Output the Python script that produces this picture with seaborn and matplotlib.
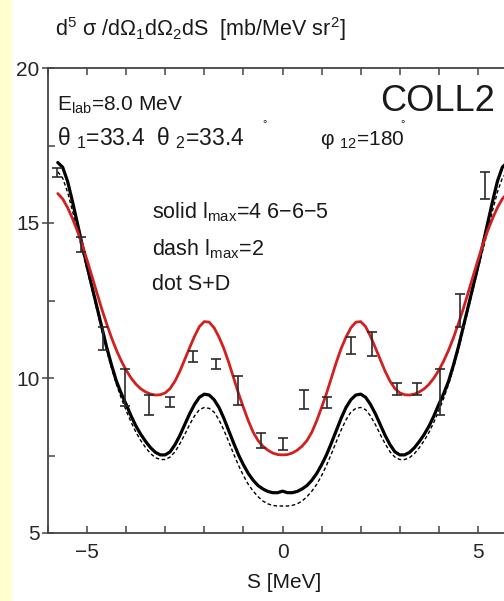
import matplotlib
matplotlib.use("Agg")
import matplotlib.pyplot as plt
from matplotlib.patches import Rectangle
from matplotlib.ticker import MultipleLocator, FixedLocator
import pandas as pd
import seaborn as sns

# ---- theory curves on a common S grid [MeV], step 0.125 ----
s_grid = [-5.75, -5.625, -5.5, -5.375, -5.25, -5.125, -5.0, -4.875, -4.75, -4.625,
          -4.5, -4.375, -4.25, -4.125, -4.0, -3.875, -3.75, -3.625, -3.5, -3.375,
          -3.25, -3.125, -3.0, -2.875, -2.75, -2.625, -2.5, -2.375, -2.25, -2.125,
          -2.0, -1.875, -1.75, -1.625, -1.5, -1.375, -1.25, -1.125, -1.0, -0.875,
          -0.75, -0.625, -0.5, -0.375, -0.25, -0.125, 0.0,
          0.125, 0.25, 0.375, 0.5, 0.625, 0.75, 0.875, 1.0, 1.125, 1.25,
          1.375, 1.5, 1.625, 1.75, 1.875, 2.0, 2.125, 2.25, 2.375, 2.5,
          2.625, 2.75, 2.875, 3.0, 3.125, 3.25, 3.375, 3.5, 3.625, 3.75,
          3.875, 4.0, 4.125, 4.25, 4.375, 4.5, 4.625, 4.75, 4.875, 5.0,
          5.125, 5.25, 5.375, 5.5, 5.625, 5.75]

# solid, l_max = 4 6-6-5
solid_lmax4 = [16.95, 16.8, 16.35, 15.7, 15.0, 14.3, 13.6, 12.95, 12.3, 11.65,
               11.0, 10.42, 9.9, 9.5, 9.15, 8.78, 8.45, 8.18, 7.95, 7.75,
               7.6, 7.52, 7.52, 7.62, 7.85, 8.15, 8.5, 8.85, 9.15, 9.38,
               9.48, 9.45, 9.3, 9.05, 8.7, 8.3, 7.9, 7.52, 7.2, 6.92,
               6.7, 6.53, 6.42, 6.34, 6.3, 6.3, 6.35,
               6.3, 6.3, 6.34, 6.42, 6.53, 6.7, 6.92, 7.2, 7.52, 7.9,
               8.3, 8.7, 9.05, 9.3, 9.45, 9.48, 9.38, 9.15, 8.85, 8.5,
               8.15, 7.85, 7.62, 7.52, 7.52, 7.6, 7.75, 7.95, 8.18, 8.45,
               8.78, 9.15, 9.5, 9.9, 10.42, 11.0, 11.65, 12.3, 12.95, 13.6,
               14.3, 15.0, 15.7, 16.35, 16.8, 16.95]

# dashed, S+D
dash_sd = [16.65, 16.45, 16.0, 15.4, 14.75, 14.12, 13.5, 12.85, 12.2, 11.55,
           10.9, 10.32, 9.8, 9.35, 8.95, 8.58, 8.25, 7.98, 7.75, 7.56,
           7.43, 7.37, 7.37, 7.45, 7.62, 7.88, 8.18, 8.5, 8.78, 8.98,
           9.05, 9.02, 8.9, 8.65, 8.32, 7.94, 7.55, 7.18, 6.85, 6.57,
           6.35, 6.17, 6.03, 5.94, 5.89, 5.87, 5.87,
           5.87, 5.89, 5.94, 6.03, 6.17, 6.35, 6.57, 6.85, 7.18, 7.55,
           7.94, 8.32, 8.65, 8.9, 9.02, 9.05, 8.98, 8.78, 8.5, 8.18,
           7.88, 7.62, 7.45, 7.37, 7.37, 7.43, 7.56, 7.75, 7.98, 8.25,
           8.58, 8.95, 9.35, 9.8, 10.32, 10.9, 11.55, 12.2, 12.85, 13.5,
           14.12, 14.75, 15.4, 16.0, 16.45, 16.65]

# red, l_max = 2
red_lmax2 = [15.95, 15.78, 15.5, 15.15, 14.75, 14.3, 13.8, 13.28, 12.75, 12.23,
             11.75, 11.3, 10.9, 10.55, 10.25, 10.0, 9.8, 9.65, 9.55, 9.48,
             9.45, 9.46, 9.52, 9.66, 9.9, 10.22, 10.6, 10.98, 11.35, 11.66,
             11.82, 11.8, 11.62, 11.32, 10.95, 10.5, 10.0, 9.5, 9.05, 8.62,
             8.25, 7.98, 7.8, 7.67, 7.58, 7.53, 7.52,
             7.53, 7.58, 7.67, 7.8, 7.98, 8.25, 8.62, 9.05, 9.5, 10.0,
             10.5, 10.95, 11.32, 11.62, 11.8, 11.82, 11.66, 11.35, 10.98, 10.6,
             10.22, 9.9, 9.66, 9.52, 9.46, 9.45, 9.48, 9.55, 9.65, 9.8,
             10.0, 10.25, 10.55, 10.9, 11.3, 11.75, 12.23, 12.75, 13.28, 13.8,
             14.3, 14.75, 15.15, 15.5, 15.78, 15.95]

# ---- measured cross sections ----
s_data = [-5.77, -5.15, -4.6, -4.03, -3.41, -2.87, -2.28, -1.69, -1.15, -0.56, 0.0,
          0.56, 1.13, 1.74, 2.28, 2.92, 3.43, 4.03, 4.54, 5.18]
xs_data = [16.63, 14.3, 11.28, 9.7, 9.12, 9.22, 10.7, 10.45, 9.6, 7.98, 7.87,
           9.3, 9.2, 11.05, 11.1, 9.65, 9.65, 9.55, 12.18, 16.2]
xs_err = [0.14, 0.24, 0.37, 0.6, 0.32, 0.16, 0.18, 0.16, 0.48, 0.24, 0.19,
          0.3, 0.18, 0.26, 0.4, 0.2, 0.2, 0.75, 0.53, 0.44]

x_ticks = [-5, 0, 5]
y_ticks = [5, 10, 15, 20]

sns.set_theme(style="ticks")
plt.rcParams["font.family"] = ["Liberation Sans", "DejaVu Sans"]
plt.rcParams["mathtext.fontset"] = "custom"
plt.rcParams["mathtext.rm"] = "Liberation Sans"
plt.rcParams["mathtext.it"] = "Liberation Sans:italic"
plt.rcParams["mathtext.default"] = "rm"

W, H = 504, 601
fig = plt.figure(figsize=(W / 100, H / 100), dpi=100, facecolor="white")
fig.patches.append(Rectangle((0, 0), 12 / W, 1, transform=fig.transFigure,
                             facecolor="#FFFFCF", edgecolor="none", zorder=0))

# axes: left edge at 48 px, S = 6 at 517 px (past the right border), y from 533 to 68 px
ax = fig.add_axes([48 / W, (H - 533) / H, 469 / W, 465 / H])
ax.set_facecolor("white")

curves = pd.DataFrame({"S": s_grid, "solid": solid_lmax4, "dash": dash_sd, "red": red_lmax2})
sns.lineplot(data=curves, x="S", y="dash", ax=ax, color="black", lw=1.0,
             linestyle=(0, (2.6, 1.8)), sort=False, estimator=None, zorder=3)
sns.lineplot(data=curves, x="S", y="solid", ax=ax, color="black", lw=2.3,
             sort=False, estimator=None, zorder=4)
sns.lineplot(data=curves, x="S", y="red", ax=ax, color="#D21F1F", lw=2.0,
             sort=False, estimator=None, zorder=5)

ax.errorbar(s_data, xs_data, yerr=xs_err, fmt="none", ecolor="#2a2a2a",
            elinewidth=1.2, capsize=3.5, capthick=1.2, zorder=6)

ax.set_xlim(-6, 6)
ax.set_ylim(5, 20)
ax.set_xlabel("")
ax.set_ylabel("")

for side in ["left", "bottom", "top"]:
    ax.spines[side].set_visible(True)
    ax.spines[side].set_color("#444444")
    ax.spines[side].set_linewidth(1.3)
ax.spines["right"].set_visible(False)

ax.xaxis.set_major_locator(FixedLocator(x_ticks))
ax.xaxis.set_minor_locator(MultipleLocator(1))
ax.yaxis.set_major_locator(FixedLocator(y_ticks))
ax.yaxis.set_minor_locator(MultipleLocator(2.5))
ax.set_xticklabels(["\u22125", "0", "5"])
ax.set_yticklabels([str(v) for v in y_ticks])
ax.tick_params(axis="x", which="both", direction="in", top=True, bottom=True,
               length=5, width=1.1, color="#444444", labelsize=15, pad=7)
ax.tick_params(axis="y", which="major", direction="inout", left=True, right=False,
               length=8, width=1.1, color="#444444", labelsize=15, pad=2)
ax.tick_params(axis="y", which="minor", direction="in", left=True, right=False,
               length=5, width=1.1, color="#444444")


def fx(px):
    return px / W


def fy(py):
    return 1 - py / H


txt = dict(color="#1a1a1a", ha="left", va="baseline")
fig.text(fx(55), fy(36), r"d$^{5}$ σ /dΩ$_{1}$dΩ$_{2}$dS  [mb/MeV sr$^{2}$]", fontsize=15.5, **txt)
fig.text(fx(57), fy(111), r"E$_{\rm lab}$=8.0 MeV", fontsize=15, **txt)
fig.text(fx(380), fy(111), "COLL2", fontsize=26, **txt)
fig.text(fx(57), fy(145), r"θ $_{1}$=33.4  θ $_{2}$=33.4", fontsize=16.5, **txt)
fig.text(fx(262), fy(127), "°", fontsize=8, **txt)
fig.text(fx(320), fy(145), r"φ $_{12}$=180", fontsize=15, **txt)
fig.text(fx(400), fy(127), "°", fontsize=8, **txt)
fig.text(fx(152), fy(218), r"solid l$_{\rm max}$=4 6−6−5", fontsize=15.5, **txt)
fig.text(fx(152), fy(255), r"dash l$_{\rm max}$=2", fontsize=15.5, **txt)
fig.text(fx(152), fy(290), "dot S+D", fontsize=15.5, **txt)
fig.text(fx(284), fy(588), "S [MeV]", fontsize=15, color="#1a1a1a", ha="center", va="baseline")

fig.savefig("out.png", dpi=100, facecolor=fig.get_facecolor())
